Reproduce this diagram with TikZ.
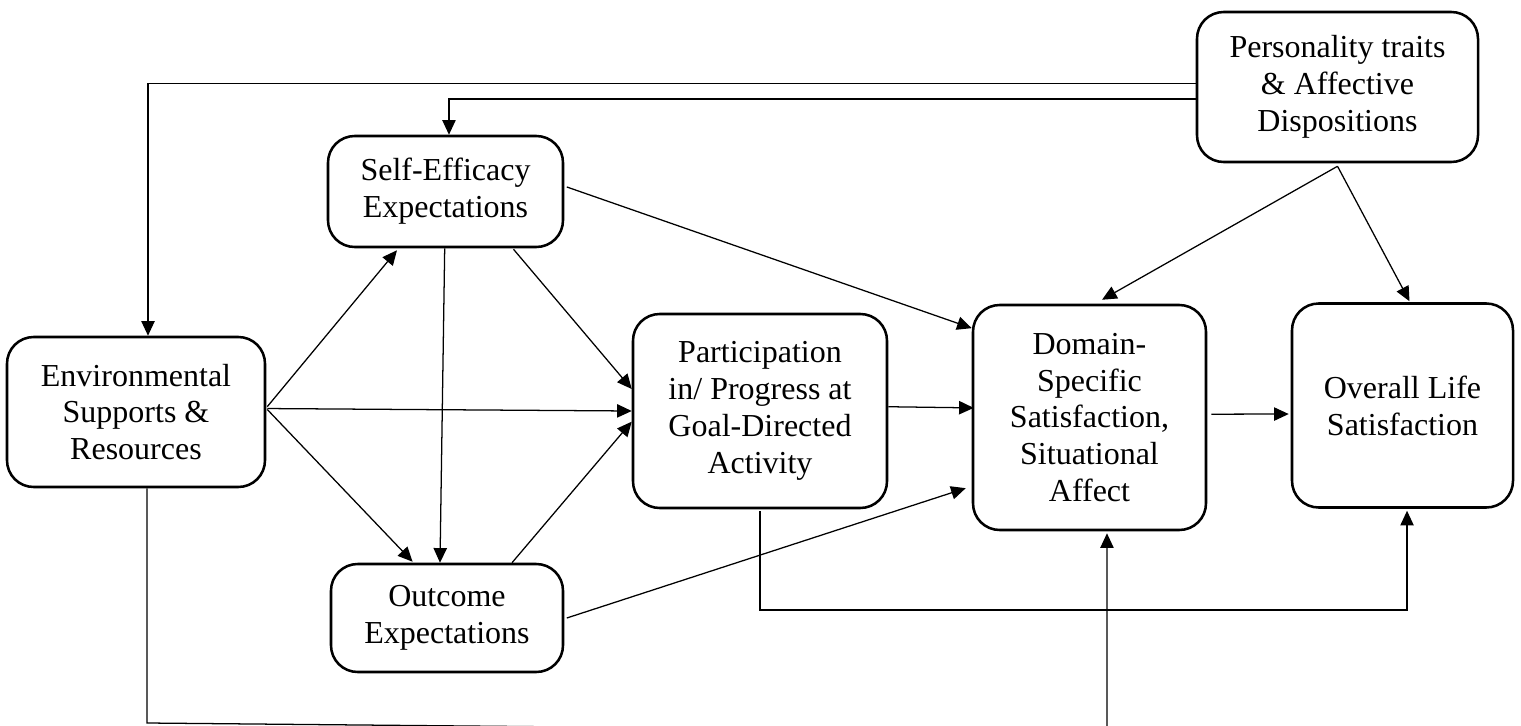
\documentclass[tikz,border=0pt]{standalone}
\usepackage{fontspec}
\setmainfont{Liberation Serif}
\usetikzlibrary{arrows.meta,calc}
\tikzset{
  box/.style={draw, line width=1.9pt, rounded corners=20pt, align=center, inner sep=0pt,
    font=\fontsize{24}{27.6}\selectfont},
  conn/.style={line width=0.95pt, -{Triangle[length=11pt,width=10pt]}}
}
\begin{document}
\begin{tikzpicture}[x=0.75pt,y=-0.75pt]
\useasboundingbox (0,0) rectangle (1521,725);
% nodes
\node[box, minimum width=210.75pt, minimum height=112.5pt] (pers) at (1337.5,87) {Personality traits\\ \& Affective\\ Dispositions};
\node[box, minimum width=176.25pt, minimum height=83.25pt] (se) at (445.5,191.5) {Self-Efficacy\\ Expectations};
\node[box, minimum width=193.5pt, minimum height=112.5pt] (env) at (136,412) {Environmental\\ Supports \&\\ Resources};
\node[box, minimum width=174pt, minimum height=81pt] (out) at (447,618) {Outcome\\ Expectations};
\node[box, minimum width=190.5pt, minimum height=145.5pt] (part) at (760,411) {Participation\\ in/ Progress at\\ Goal-Directed\\ Activity};
\node[box, minimum width=174.75pt, minimum height=168.75pt] (dom) at (1089.5,417.5) {Domain-\\ Specific\\ Satisfaction,\\ Situational\\ Affect};
\node[box, minimum width=165.75pt, minimum height=153pt] (ovr) at (1402.5,405.5) {Overall Life\\ Satisfaction};
% connectors from personality
\draw[conn] ([yshift=2.5pt]pers.west) -| ([xshift=9pt]env.north);
\draw[conn] ([yshift=-9pt]pers.west) -| ([xshift=2.6pt]se.north);
\coordinate (pb) at ([yshift=-2.25pt]pers.south);
\draw[conn] (pb) -- ([xshift=9.4pt,yshift=3pt]dom.north);
\draw[conn] (pb) -- ([xshift=5.25pt,yshift=0.75pt]ovr.north);
% self-efficacy
\draw[conn] ([xshift=1.9pt,yshift=3.4pt]se.east) -- ([yshift=67pt]dom.west);
\draw[conn] ([xshift=-0.6pt]se.south) -- ([xshift=-5.25pt]out.north);
\draw[conn] ([xshift=51pt,yshift=-0.75pt]se.south) -- ([yshift=16.5pt]part.west);
% environmental
\draw[conn] ([xshift=0.75pt,yshift=4pt]env.east) -- ([xshift=-36.4pt,yshift=-1.5pt]se.south);
\draw[conn] ([xshift=0.75pt,yshift=2.6pt]env.east) -- (part.west);
\draw[conn] ([xshift=0.75pt,yshift=1.9pt]env.east) -- ([xshift=-25.8pt,yshift=0.75pt]out.north);
% outcome
\draw[conn] ([xshift=48.75pt]out.north) -- ([yshift=-8pt]part.west);
\draw[conn] ([xshift=1.9pt]out.east) -- ([xshift=-4.5pt,yshift=-53pt]dom.west);
% participation
\draw[conn] ([yshift=3.2pt]part.east) -- ([xshift=1.5pt,yshift=7.2pt]dom.west);
\draw[conn] ([yshift=-1.5pt]part.south) -- (part.south |- 0,610) -| ([xshift=3.4pt,yshift=-1.5pt]ovr.south);
% domain -> overall
\draw[conn] ([xshift=3pt,yshift=2.5pt]dom.east) -- ([xshift=-1.5pt,yshift=-6.4pt]ovr.west);
% environmental -> domain along bottom
\coordinate (bl) at ([xshift=8.25pt]env.south |- 0,723);
\coordinate (br) at ([xshift=13.1pt]dom.south |- 0,732);
\draw[conn] ([xshift=8.25pt]env.south) -- (bl) -- (br) -- ([xshift=13.1pt,yshift=-1.5pt]dom.south);
\end{tikzpicture}
\end{document}
